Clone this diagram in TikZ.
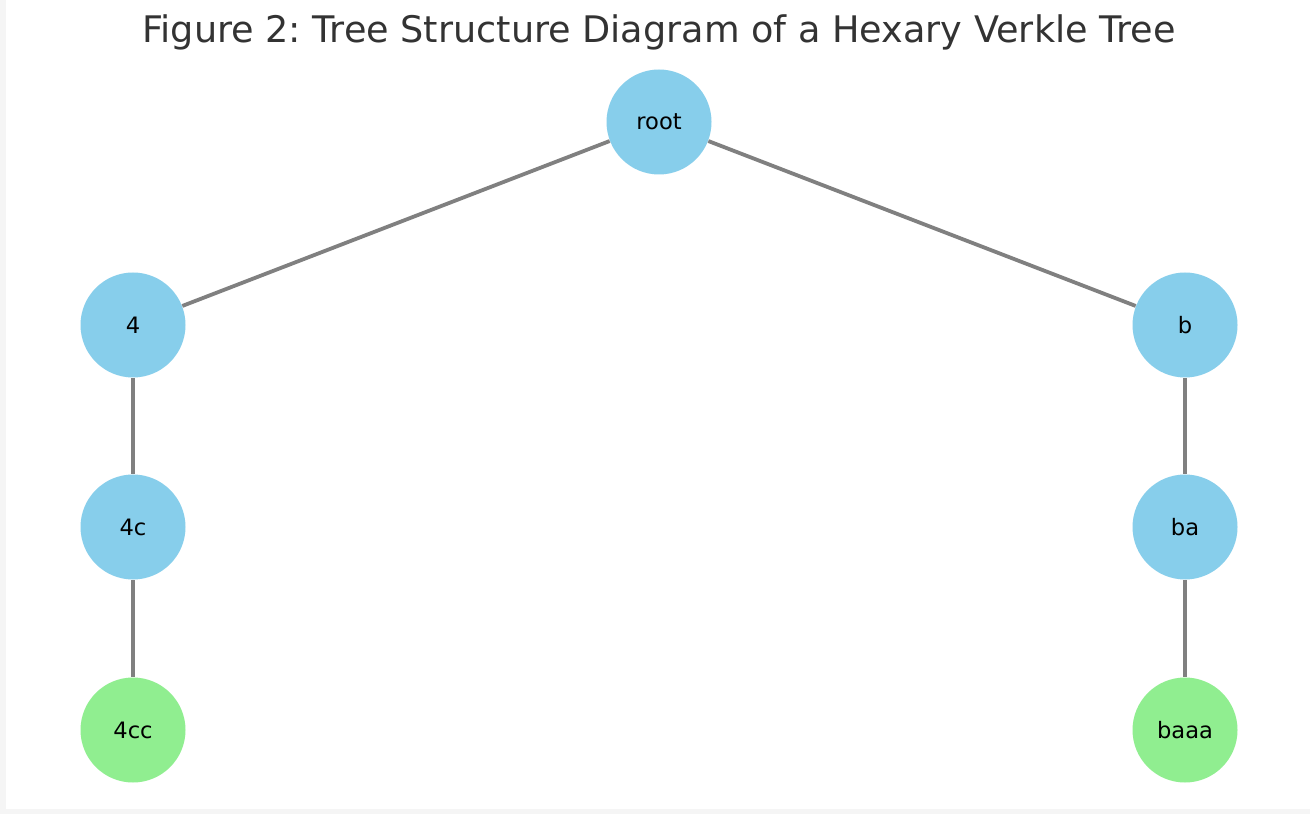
\documentclass[tikz,border=0pt]{standalone}
\usepackage{fontspec}
\setmainfont{DejaVu Sans}
\usetikzlibrary{positioning}
\definecolor{SkyBlue}{HTML}{87CEEB}
\definecolor{LeafGreen}{HTML}{90EE90}
\definecolor{EdgeGray}{HTML}{808080}
\definecolor{TitleInk}{HTML}{333333}
\definecolor{PageGray}{HTML}{F5F5F5}
\frenchspacing

\begin{document}
\begin{tikzpicture}[x=0.5pt,y=0.5pt,
    vnode/.style={circle,minimum size=52.5pt,inner sep=0pt,
      font=\fontsize{11.3}{13}\selectfont},
    edge/.style={EdgeGray,line width=1.9pt}]
    % page and plot area
    \fill[PageGray] (0,0) rectangle (1310,814);
    \fill[white] (6,5) rectangle (1310,814);
    \node[anchor=base,text=TitleInk,font=\fontsize{18.3}{22}\selectfont]
      (title) at (659,771) {Figure 2: Tree Structure Diagram of a Hexary Verkle Tree};
    % tree nodes
    \foreach \name/\x/\y/\col/\lab in {
      root/659/692/SkyBlue/root,
      n4/133/489/SkyBlue/4,n4c/133/287/SkyBlue/4c,n4cc/133/84/LeafGreen/4cc,
      nb/1185/489/SkyBlue/b,nba/1185/287/SkyBlue/ba,nbaaa/1185/84/LeafGreen/baaa}
      {
        \node[vnode,fill=\col] (\name) at (\x,\y) {\lab};
      }
    % edges
    \foreach \a/\b in {root/n4,n4/n4c,n4c/n4cc,root/nb,nb/nba,nba/nbaaa}
      \draw[edge] (\a) -- (\b);
  \end{tikzpicture}
\end{document}
